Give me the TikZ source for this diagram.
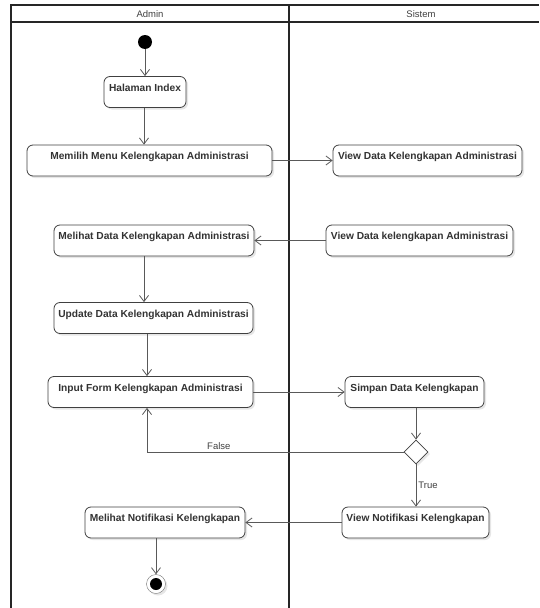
\documentclass[tikz,border=0pt]{standalone}
\usepackage{fontspec}
\setmainfont{Liberation Sans}
\usepackage{tikz}
\usetikzlibrary{positioning, arrows.meta, shapes.geometric, shadows}

\begin{document}
\begin{tikzpicture}[x=1pt, y=-1pt,
  act/.style={draw=black!75, rounded corners=6pt, fill=white, line width=0.8pt,
    minimum height=31pt, text height=8pt, text depth=9.7pt, inner sep=0pt,
    font=\fontsize{10.2}{12}\selectfont\bfseries, text=black!80,
    drop shadow={shadow xshift=2pt, shadow yshift=-2pt, opacity=0.2}},
  flow/.style={draw=black!65, line width=0.8pt, -{Straight Barb[length=6pt, width=9pt]}},
  lane/.style={line width=1.4pt, draw=black!85},
  cond/.style={font=\fontsize{9.5}{11}\selectfont, text=black!75, inner sep=2pt}]
\useasboundingbox (0,0) rectangle (539,608);

% Swimlanes
\draw[lane] (11,608) -- (11,5) -- (539,5);
\draw[lane] (11,22) -- (539,22);
\draw[lane] (289,5) -- (289,608);
\node[cond] (admin) at (150,14) {Admin};
\node[cond] (sistem) at (421,14) {Sistem};

% Admin lane
\node[circle, fill=black, minimum size=14pt, inner sep=0pt] (start) at (145,42) {};
\node[act, minimum width=82pt] (index) at (145,92) {Halaman Index};
\node[act, minimum width=245pt] (memilih) at (149.5,160.5) {Memilih Menu Kelengkapan Administrasi};
\node[act, minimum width=200pt] (melihat) at (154,240.5) {Melihat Data Kelengkapan Administrasi};
\node[act, minimum width=199pt] (update) at (153.5,318) {Update Data Kelengkapan Administrasi};
\node[act, minimum width=205pt] (input) at (150.5,392) {Input Form Kelengkapan Administrasi};
\node[act, minimum width=160pt] (notifadmin) at (165,522.5) {Melihat Notifikasi Kelengkapan};
\node[circle, draw=black!55, fill=white, minimum size=19pt, inner sep=0pt,
  drop shadow={shadow xshift=2pt, shadow yshift=-2pt, opacity=0.2},
  path picture={\fill[black] (path picture bounding box.center) circle (6pt);}] (stop) at (156,584) {};

% Sistem lane
\node[act, minimum width=189pt] (viewdata) at (427.5,160.5) {View Data Kelengkapan Administrasi};
\node[act, minimum width=187pt] (viewdata2) at (419.5,240.5) {View Data kelengkapan Administrasi};
\node[act, minimum width=139pt] (simpan) at (414.5,392) {Simpan Data Kelengkapan};
\node[diamond, draw=black!75, fill=white, line width=0.8pt, minimum width=24pt, minimum height=24pt, inner sep=0pt,
  drop shadow={shadow xshift=2pt, shadow yshift=-2pt, opacity=0.2}] (cek) at (416,452) {};
\node[act, minimum width=147pt] (notifsistem) at (415.5,522.5) {View Notifikasi Kelengkapan};

% Flows
\draw[flow] (start) -- (index);
\draw[flow] ([xshift=-1pt]index.south) -- ([xshift=-1pt]index.south |- memilih.north);
\draw[flow] (memilih) -- (viewdata);
\draw[flow] (viewdata2) -- (melihat);
\draw[flow] ([xshift=-10pt]melihat.south) -- ([xshift=-10pt]melihat.south |- update.north);
\draw[flow] ([xshift=-6.5pt]update.south) -- ([xshift=-6.5pt]update.south |- input.north);
\draw[flow] (input) -- (simpan);
\draw[flow] (simpan.south -| cek.north) -- (cek.north);
\draw[flow] (cek.west) -| ([xshift=-3.5pt]input.south) node[cond, pos=0.36, above] {False};
\draw[flow] (cek.south) -- (cek.south |- notifsistem.north) node[cond, midway, right] {True};
\draw[flow] (notifsistem) -- (notifadmin);
\draw[flow] (notifadmin.south -| stop.north) -- (stop.north);
\end{tikzpicture}
\end{document}
